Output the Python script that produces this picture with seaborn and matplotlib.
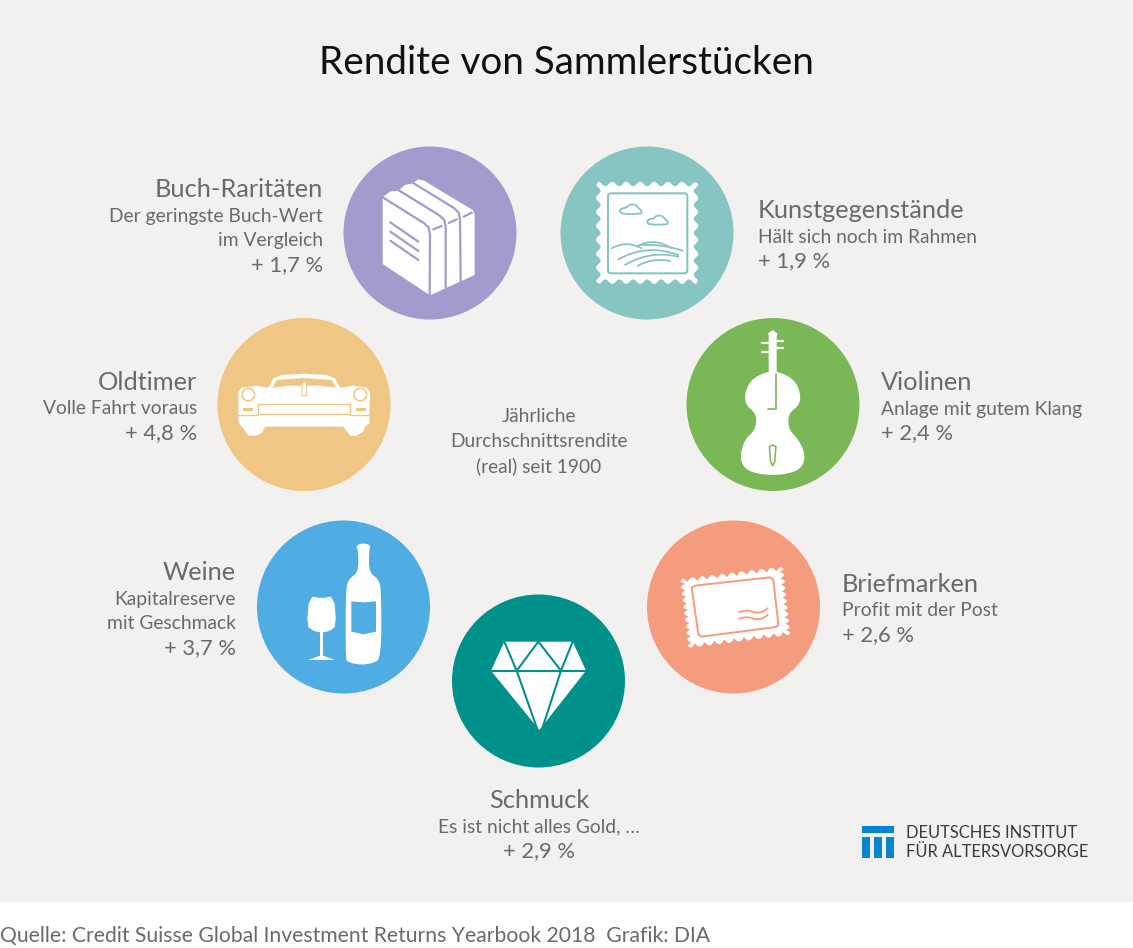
import numpy as np
import pandas as pd
import matplotlib.pyplot as plt
import seaborn as sns
from matplotlib.patches import Rectangle, Polygon, Circle, PathPatch, FancyBboxPatch
from matplotlib.path import Path

# chart data
names = ["Buch-Raritäten", "Kunstgegenstände", "Oldtimer", "Violinen", "Weine", "Briefmarken", "Schmuck"]
subtitles = [
    ["Der geringste Buch-Wert", "im Vergleich"],
    ["Hält sich noch im Rahmen"],
    ["Volle Fahrt voraus"],
    ["Anlage mit gutem Klang"],
    ["Kapitalreserve", "mit Geschmack"],
    ["Profit mit der Post"],
    ["Es ist nicht alles Gold, …"],
]
returns = [1.7, 1.9, 4.8, 2.4, 3.7, 2.6, 2.9]
center_lines = ["Jährliche", "Durchschnittsrendite", "(real) seit 1900"]
title = "Rendite von Sammlerstücken"
source = "Quelle: Credit Suisse Global Investment Returns Yearbook 2018  Grafik: DIA"
logo_lines = ["DEUTSCHES INSTITUT", "FÜR ALTERSVORSORGE"]

# layout, in pixels of the picture
colors = ["#A59ACD", "#86C5C2", "#F0C685", "#7AB857", "#4FADE4", "#F59B7E", "#00918A"]
circle_x = [430, 647, 304, 773, 343.5, 733.5, 538.5]
circle_y = [233, 233, 404.5, 404.5, 607, 607, 681]
text_x = [323, 758, 197, 881, 236, 842, 539]
text_y = [188, 209, 381, 381, 571, 583, 799]
text_ha = ["right", "left", "right", "left", "right", "left", "center"]

W = 1133
H = 948
GREY = "#6A6A6A"
sns.set_theme(style="white")
plt.rcParams["font.family"] = ["Lato", "DejaVu Sans"]

fig = plt.figure(figsize=(W / 100, H / 100), dpi=100)
ax = fig.add_axes([0, 0, 1, 1])
ax.add_patch(Rectangle((0, 0), W, 902, fc="#F2F1EF", ec="none", zorder=0))

df = pd.DataFrame({"x": circle_x, "y": circle_y, "name": names})
diam = 173 * 0.72
sns.scatterplot(data=df, x="x", y="y", hue="name", palette=colors, s=diam ** 2,
                linewidth=0, legend=False, ax=ax, zorder=1)
ax.set_xlim(0, W)
ax.set_ylim(H, 0)
ax.set_axis_off()


def zp(points, ox, oy):
    return [(ox + a / 3, oy + b / 3) for a, b in points]


def smooth(points, k=3):
    # corner cutting, rounds off the outline of an icon
    p = [np.array(q, dtype=float) for q in points]
    for _ in range(k):
        new = []
        for i in range(len(p)):
            a = p[i]
            b = p[(i + 1) % len(p)]
            new.append(a * 0.75 + b * 0.25)
            new.append(a * 0.25 + b * 0.75)
        p = new
    return [tuple(q) for q in p]


def poly(points, ox, oy, fc="white", ec="none", lw=0.0):
    ax.add_patch(Polygon(zp(points, ox, oy), closed=True, fc=fc, ec=ec, lw=lw, joinstyle="round", zorder=3))


def line(points, ox, oy, color, lw=1.6):
    p = zp(points, ox, oy)
    ax.plot([a for a, b in p], [b for a, b in p], color=color, lw=lw, solid_capstyle="round",
            solid_joinstyle="round", zorder=4)


def curve(p0, c, p1, ox, oy, color, lw=1.3):
    p = zp([p0, c, p1], ox, oy)
    ax.add_patch(PathPatch(Path(p, [Path.MOVETO, Path.CURVE3, Path.CURVE3]), fc="none", ec=color,
                           lw=lw, capstyle="round", zorder=4))


def stamp(corners, ox, oy, n, amp, round_bumps=False):
    # white stamp with a scalloped edge
    pts = []
    c = [np.array(q, dtype=float) for q in corners]
    for i in range(4):
        a = c[i]
        b = c[(i + 1) % 4]
        d = b - a
        normal = np.array([d[1], -d[0]]) / np.hypot(*d)
        for t in np.linspace(0, 1, n * 12, endpoint=False):
            if round_bumps:
                off = amp * (2 * abs(np.cos(np.pi * n * t)) - 1)
            else:
                off = amp * np.cos(2 * np.pi * n * t)
            pts.append(tuple(a + d * t + normal * off))
    poly(pts, ox, oy)


# books
ox, oy = 340, 140
col = colors[0]
poly([(128, 172), (150, 155), (175, 152), (195, 135), (218, 130), (235, 118), (252, 122), (398, 210),
      (404, 222), (404, 405), (270, 466), (128, 372)], ox, oy)
line([(128, 172), (250, 248), (266, 262), (270, 285), (269, 465)], ox, oy, col)
line([(175, 150), (298, 226), (313, 240), (317, 262), (317, 442)], ox, oy, col)
line([(218, 128), (342, 204), (356, 218), (360, 240), (362, 424)], ox, oy, col)
for seg in [[(280, 268), (305, 258)], [(326, 249), (350, 238)], [(371, 230), (395, 218)]]:
    line(seg, ox, oy, col)
for dy in [0, 28, 55]:
    line([(151, 247 + dy), (235, 305 + dy)], ox, oy, col)

# framed picture
col = colors[1]
stamp([(775, 132), (1068, 132), (1068, 425), (775, 425)], ox, oy, 7, 7)
ax.add_patch(FancyBboxPatch((ox + 804 / 3, oy + 160 / 3), 238 / 3, 240 / 3, boxstyle="round,pad=0,rounding_size=3",
                            fc="white", ec=col, lw=1.5, zorder=3))
cloud = [(848, 222), (838, 214), (845, 205), (860, 203), (868, 194), (885, 193), (895, 203), (905, 213), (903, 222)]
poly(smooth(cloud, 1), ox, oy, fc="white", ec=col, lw=1.3)
poly(smooth([(a * 0.95 + 124, b * 0.95 + 43) for a, b in cloud], 1), ox, oy, fc="white", ec=col, lw=1.3)
curve((815, 325), (860, 300), (905, 325), ox, oy, col)
curve((890, 320), (940, 290), (995, 325), ox, oy, col)
curve((905, 315), (970, 312), (1028, 332), ox, oy, col)
curve((835, 358), (920, 310), (1015, 345), ox, oy, col)
curve((855, 375), (930, 330), (1015, 350), ox, oy, col)
curve((893, 378), (935, 352), (990, 363), ox, oy, col)

# car
ox, oy = 210, 315
col = colors[2]
poly([(85, 232), (95, 218), (140, 212), (175, 218), (190, 190), (215, 180), (285, 176), (350, 180), (375, 190),
      (390, 218), (430, 212), (470, 218), (480, 232), (478, 325), (465, 335), (460, 350), (440, 362), (420, 362),
      (400, 335), (165, 335), (155, 355), (135, 362), (115, 362), (100, 340), (85, 322)], ox, oy)
poly([(188, 218), (200, 195), (280, 189), (365, 195), (378, 218), (330, 212), (235, 212)], ox, oy, fc=col)
poly([(276, 205), (283, 198), (290, 205), (290, 242), (276, 242)], ox, oy, ec=col, lw=0.8)
for cx in [115, 451]:
    ax.add_patch(Circle((ox + cx / 3, oy + 239 / 3), 6.3, fc="white", ec=col, lw=1.1, zorder=4))
ax.add_patch(Rectangle((ox + 143 / 3, oy + 268 / 3), 277 / 3, 29 / 3, fc="white", ec=col, lw=1.0, zorder=4))
line([(85, 299), (143, 299)], ox, oy, col, 1.0)
line([(420, 299), (478, 299)], ox, oy, col, 1.0)
for rx in [100, 437]:
    ax.add_patch(Rectangle((ox + rx / 3, oy + 279 / 3), 10, 3, fc=col, ec="none", zorder=4))

# violin
ox, oy = 680, 315
col = colors[3]
poly(smooth([(265, 170), (232, 182), (206, 205), (194, 240), (198, 270), (226, 294), (230, 320), (222, 348), (196, 372),
             (182, 412), (184, 447), (210, 472), (278, 482), (346, 472), (372, 447), (374, 412), (354, 372), (330, 348),
             (324, 320), (328, 294), (358, 270), (362, 240), (350, 205), (324, 182), (291, 170)]), ox, oy)
poly([(266, 60), (264, 55), (278, 45), (292, 55), (290, 65), (290, 185), (266, 185)], ox, oy)
for seg in [[(247, 85), (268, 85)], [(247, 112), (268, 112)], [(288, 78), (310, 78)], [(288, 100), (310, 100)]]:
    line(seg, ox, oy, "white", 1.6)
line([(289, 178), (289, 281), (263, 281)], ox, oy, col, 1.2)
poly([(268, 395), (278, 390), (288, 395), (284, 440), (278, 452), (272, 440)], ox, oy, fc="white", ec=col, lw=1.1)

# wine
ox, oy = 250, 515
col = colors[4]
poly(smooth([(318, 93), (330, 86), (350, 86), (362, 93), (357, 108), (357, 172), (385, 192), (394, 225), (394, 432),
             (365, 445), (340, 449), (315, 447), (293, 440), (287, 432), (287, 225), (296, 192), (325, 172),
             (325, 108)], 2), ox, oy)
poly([(304, 259), (340, 262), (378, 259), (378, 350), (340, 358), (304, 350)], ox, oy, fc=col)
poly(smooth([(178, 243), (215, 250), (252, 243), (259, 332), (240, 348), (215, 353), (190, 348), (170, 332)], 1), ox, oy)
poly([(210, 345), (219, 345), (219, 422), (255, 435), (175, 435), (210, 422)], ox, oy)

# diamond
ox, oy = 445, 590
col = colors[6]
poly([(178, 155), (383, 155), (423, 242), (283, 420), (138, 242)], ox, oy)
for seg in [[(136, 242), (425, 242)], [(178, 155), (215, 242)], [(215, 242), (280, 155)], [(280, 155), (348, 242)],
            [(383, 155), (348, 242)], [(215, 242), (275, 412)], [(348, 242), (293, 412)]]:
    line(seg, ox, oy, col, 1.5)

# stamp with letter lines
ox, oy = 640, 515
col = colors[5]
stamp([(127, 197), (424, 161), (445, 355), (150, 393)], ox, oy, 10, 6, round_bumps=True)
poly([(155, 218), (165, 212), (390, 187), (400, 194), (415, 328), (408, 336), (185, 365), (175, 358)],
     ox, oy, fc="white", ec=col, lw=1.4)
for dy in [0, 20]:
    curve((297, 292 + dy), (318, 282 + dy), (340, 291 + dy), ox, oy, col)
    curve((340, 291 + dy), (362, 298 + dy), (383, 280 + dy), ox, oy, col)

# logo
ox, oy = 840, 810
logo_blue = "#0B84D0"
ax.add_patch(Rectangle((ox + 65 / 3, oy + 47 / 3), 96 / 3, 22 / 3, fc=logo_blue, ec="none", zorder=3))
for bx in [65, 101, 137]:
    ax.add_patch(Rectangle((ox + bx / 3, oy + 82 / 3), 24 / 3, 61 / 3, fc=logo_blue, ec="none", zorder=3))
ax.text(906, 833, logo_lines[0], fontsize=11.9, color="#3C3C3C", va="center", ha="left", zorder=5)
ax.text(906, 852, logo_lines[1], fontsize=11.9, color="#3C3C3C", va="center", ha="left", zorder=5)

# texts
ax.text(566, 62.5, title, fontsize=27.8, color="#111111", ha="center", va="center", zorder=5)
for i in range(len(names)):
    ax.text(text_x[i], text_y[i] + 1, names[i], fontsize=18.3, color=GREY, ha=text_ha[i], va="center", zorder=5)
    y = text_y[i] + 28
    for sub in subtitles[i]:
        ax.text(text_x[i], y, sub, fontsize=13.85, color=GREY, ha=text_ha[i], va="center", zorder=5)
        y += 24.5
    label = "+ " + str(returns[i]).replace(".", ",") + " %"
    ax.text(text_x[i], y, label, fontsize=15.8, color=GREY, ha=text_ha[i], va="center", zorder=5)
for i, s in enumerate(center_lines):
    ax.text(539, 416 + i * 25, s, fontsize=13.8, color=GREY, ha="center", va="center", zorder=5)
ax.text(0, 942, source, fontsize=15.2, color=GREY, ha="left", va="baseline", zorder=5)

fig.savefig("out.png", dpi=100)
